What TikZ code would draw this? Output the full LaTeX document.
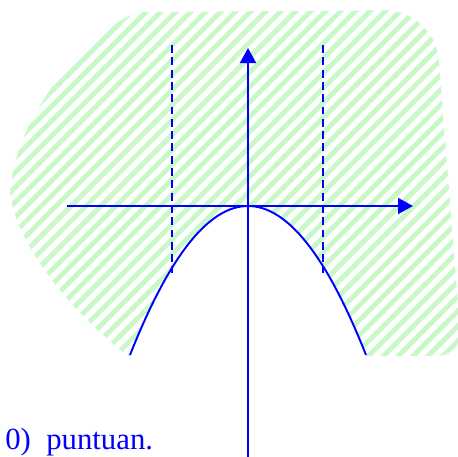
\documentclass[tikz,border=0pt]{standalone}
\usepackage{fontspec}
\setmainfont{Liberation Serif}
\usetikzlibrary{arrows.meta,patterns.meta}
\definecolor{axisblue}{HTML}{0000FF}
\definecolor{hatchgreen}{HTML}{C8F8C8}
\tikzset{
  axisarr/.style={draw=axisblue,line width=1.1pt,
                  -{Triangle[length=0.3cm,width=0.32cm]}},
  curveline/.style={draw=axisblue,line width=1.1pt},
  guideline/.style={draw=axisblue,line width=0.8pt,
                    dash pattern=on 4.5pt off 2.5pt},
  hatcharea/.style={pattern={Lines[angle=45,distance=6pt,line width=2.8pt]},
                    pattern color=hatchgreen},
  captext/.style={text=axisblue,font=\fontsize{17.5}{21}\selectfont,
                  anchor=base west,inner sep=0pt}
}

\begin{document}
\begin{tikzpicture}[x=1cm,y=1cm]
    \path[use as bounding box] (-4.96,-5.0) rectangle (4.2,4.12);

    % hatched region
    \path[hatcharea] (-2.40,-3.0)
      [rounded corners=0.5cm] -- (4.28,-3.0)
      [rounded corners=1cm] -- (3.74,3.92)
      [sharp corners] -- (-2.16,3.88)
      .. controls (-2.76,3.78) and (-4.66,2.12) .. (-4.76,0.22)
      .. controls (-4.56,-0.88) and (-3.56,-2.08) .. (-2.40,-3.0) -- cycle;
    \fill[white] plot[domain=-2.36:2.36,samples=60] (\x,{-0.535*\x*\x})
      -- (2.36,-3.06) -- (-2.36,-3.06) -- cycle;

    \coordinate (O) at (0,0);
    \coordinate (xl) at (-3.62,0);
    \coordinate (xr) at (3.3,0);
    \coordinate (yb) at (0,-5.1);
    \coordinate (yt) at (0,3.16);
    \coordinate (gl1) at (-1.52,3.22);
    \coordinate (gl2) at (-1.52,-1.34);
    \coordinate (gr1) at (1.5,3.22);
    \coordinate (gr2) at (1.5,-1.34);

    \draw[guideline] (gl1) -- (gl2);
    \draw[guideline] (gr1) -- (gr2);

    \draw[curveline] plot[domain=-2.36:2.36,samples=60] (\x,{-0.535*\x*\x});

    \draw[axisarr] (xl) -- (xr);
    \draw[axisarr] (yb) -- (yt);

    \node[captext] (cap) at (-4.86,-4.87) {0)~~puntuan.};
  \end{tikzpicture}
\end{document}
